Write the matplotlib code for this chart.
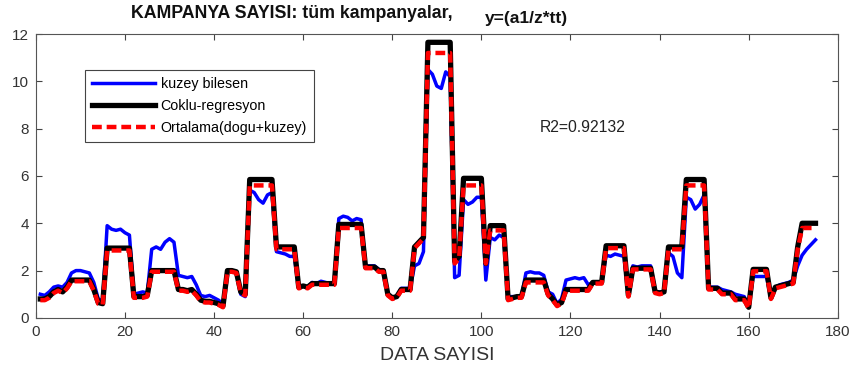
import numpy as np
import matplotlib.pyplot as plt

plt.rcParams['font.family'] = ['Liberation Sans', 'DejaVu Sans']

# veri sayisi 1..175
data_no = np.arange(1, 176)

coklu = [0.8, 0.8, 0.9, 1.1, 1.2, 1.1, 1.3, 1.6, 1.6, 1.6,
         1.6, 1.6, 1.2, 0.65, 0.6, 2.95, 2.95, 2.95, 2.95, 2.95,
         2.95, 0.9, 0.9, 0.9, 0.95, 2.0, 2.0, 2.0, 2.0, 2.0,
         2.0, 1.2, 1.2, 1.15, 1.2, 1.0, 0.75, 0.7, 0.7, 0.65,
         0.6, 0.5, 2.0, 2.0, 1.95, 1.1, 1.0, 5.85, 5.85, 5.85,
         5.85, 5.85, 5.85, 3.0, 3.0, 3.0, 3.0, 3.0, 1.3, 1.35,
         1.3, 1.45, 1.45, 1.45, 1.45, 1.45, 1.45, 3.95, 3.95, 3.95,
         3.95, 3.95, 3.95, 2.15, 2.15, 2.15, 2.0, 2.0, 1.0, 0.85,
         0.9, 1.2, 1.2, 1.2, 3.0, 3.2, 3.4, 11.65, 11.65, 11.65,
         11.65, 11.65, 11.65, 2.4, 2.6, 5.9, 5.9, 5.9, 5.9, 5.9,
         2.3, 3.9, 3.9, 3.9, 3.9, 0.8, 0.85, 0.9, 0.9, 1.6,
         1.6, 1.6, 1.6, 1.6, 1.0, 0.8, 0.55, 0.65, 1.2, 1.2,
         1.2, 1.2, 1.2, 1.2, 1.5, 1.5, 1.5, 3.05, 3.05, 3.05,
         3.05, 3.05, 0.95, 2.1, 2.1, 2.1, 2.1, 2.1, 1.1, 1.05,
         1.1, 3.0, 3.0, 3.0, 3.0, 5.85, 5.85, 5.85, 5.85, 5.85,
         1.25, 1.25, 1.25, 1.05, 1.05, 1.05, 0.8, 0.8, 0.8, 0.45,
         2.05, 2.05, 2.05, 2.05, 0.85, 1.3, 1.35, 1.4, 1.45, 1.5,
         3.0, 4.0, 4.0, 4.0, 4.0]

ortalama = [0.75, 0.75, 0.85, 1.05, 1.15, 1.05, 1.25, 1.55, 1.55, 1.55,
            1.55, 1.55, 1.15, 0.6, 0.55, 2.85, 2.85, 2.85, 2.85, 2.85,
            2.85, 0.85, 0.85, 0.85, 0.9, 1.95, 1.95, 1.95, 1.95, 1.95,
            1.95, 1.15, 1.15, 1.1, 1.15, 0.95, 0.7, 0.65, 0.65, 0.6,
            0.55, 0.45, 1.95, 1.95, 1.9, 1.05, 0.95, 5.6, 5.6, 5.6,
            5.6, 5.6, 5.6, 2.9, 2.9, 2.9, 2.9, 2.9, 1.25, 1.3,
            1.25, 1.4, 1.4, 1.4, 1.4, 1.4, 1.4, 3.8, 3.8, 3.8,
            3.8, 3.8, 3.8, 2.1, 2.1, 2.1, 1.95, 1.95, 0.95, 0.8,
            0.85, 1.15, 1.15, 1.15, 2.95, 3.15, 3.35, 11.2, 11.2, 11.2,
            11.2, 11.2, 11.2, 2.3, 2.5, 5.6, 5.6, 5.6, 5.6, 5.6,
            2.3, 3.7, 3.7, 3.7, 3.7, 0.75, 0.8, 0.85, 0.85, 1.5,
            1.5, 1.5, 1.5, 1.5, 0.95, 0.75, 0.5, 0.6, 1.15, 1.15,
            1.15, 1.15, 1.15, 1.15, 1.45, 1.45, 1.45, 2.95, 2.95, 2.95,
            2.95, 2.95, 0.9, 2.05, 2.05, 2.05, 2.05, 2.05, 1.05, 1.0,
            1.05, 2.9, 2.9, 2.9, 2.9, 5.6, 5.6, 5.6, 5.6, 5.6,
            1.2, 1.2, 1.2, 1.0, 1.0, 1.0, 0.75, 0.75, 0.75, 0.4,
            1.97, 1.97, 1.97, 1.97, 0.8, 1.25, 1.3, 1.35, 1.4, 1.45,
            2.9, 3.8, 3.8, 3.8, 3.8]

kuzey = [1.0, 0.95, 1.1, 1.3, 1.35, 1.3, 1.5, 1.9, 2.0, 2.0,
         1.95, 1.9, 1.5, 0.8, 0.7, 3.9, 3.75, 3.7, 3.75, 3.6,
         3.5, 1.0, 1.05, 1.1, 1.05, 2.9, 3.0, 2.9, 3.2, 3.35,
         3.2, 1.8, 1.75, 1.7, 1.75, 1.4, 0.95, 0.9, 0.95, 0.85,
         0.75, 0.6, 2.0, 1.95, 1.9, 1.0, 0.9, 5.4, 5.3, 5.0,
         4.85, 5.2, 5.3, 2.8, 2.75, 2.7, 2.6, 2.6, 1.3, 1.35,
         1.3, 1.5, 1.45, 1.55, 1.5, 1.45, 1.5, 4.2, 4.3, 4.25,
         4.1, 4.2, 4.15, 2.2, 2.2, 2.2, 2.05, 2.0, 1.0, 0.85,
         0.9, 1.25, 1.25, 1.25, 2.2, 2.3, 2.8, 10.5, 10.3, 9.8,
         9.7, 10.4, 10.2, 1.7, 1.8, 5.0, 4.8, 4.9, 5.1, 5.1,
         1.6, 3.4, 3.3, 3.5, 3.4, 0.9, 0.9, 0.9, 0.9, 1.9,
         1.95, 1.9, 1.9, 1.8, 1.1, 1.0, 0.6, 0.8, 1.6, 1.65,
         1.7, 1.65, 1.7, 1.4, 1.5, 1.5, 1.5, 2.65, 2.6, 2.7,
         2.65, 2.6, 1.0, 2.2, 2.15, 2.2, 2.2, 2.2, 1.1, 1.1,
         1.1, 2.75, 2.6, 1.9, 1.7, 5.1, 5.0, 4.6, 4.8, 5.2,
         1.3, 1.3, 1.3, 1.2, 1.15, 1.1, 1.0, 0.95, 0.9, 0.5,
         1.75, 1.75, 1.75, 1.75, 0.85, 1.3, 1.4, 1.45, 1.5, 1.6,
         2.2, 2.65, 2.9, 3.1, 3.3]

fig = plt.figure(figsize=(8.54, 3.74), dpi=100)
ax = fig.add_axes([0.042, 0.150, 0.939, 0.759])

ax.plot(data_no, kuzey, color='blue', lw=2.5, label='kuzey bilesen')
ax.plot(data_no, coklu, color='black', lw=3.8, label='Coklu-regresyon')
ax.plot(data_no, ortalama, color='red', lw=3.2, ls=(0, (2.2, 1.1)),
        label='Ortalama(dogu+kuzey)')

ax.set_xlim(0, 180)
ax.set_ylim(0, 12)
ax.set_xticks(np.arange(0, 181, 20))
ax.set_yticks(np.arange(0, 13, 2))
ax.tick_params(direction='in', top=True, right=True, length=4, width=0.8,
               labelsize=11, labelcolor='#333333', color='#444444', pad=5)
for s in ax.spines.values():
    s.set_color('#555555')
    s.set_linewidth(0.8)

ax.set_xlabel('DATA SAYISI', fontsize=14, color='#333333', labelpad=6)

leg = ax.legend(loc='upper left', bbox_to_anchor=(0.061, 0.873),
                borderaxespad=0, fancybox=False, framealpha=1,
                edgecolor='#444444', fontsize=10.3, handlelength=4.4,
                handletextpad=0.4, labelspacing=0.55, borderpad=0.5)
leg.get_frame().set_linewidth(0.8)

ax.text(113, 8.05, 'R2=0.92132', fontsize=11.3, color='#222222', va='center')

fig.text(0.153, 0.963, 'KAMPANYA SAYISI: tüm kampanyalar,', fontsize=12.8,
         fontweight='bold', color='#111111', va='center')
fig.text(0.568, 0.951, 'y=(a1/z*tt)', fontsize=12.5, fontweight='bold',
         color='#111111', va='center')

fig.savefig('out.png', dpi=100)
